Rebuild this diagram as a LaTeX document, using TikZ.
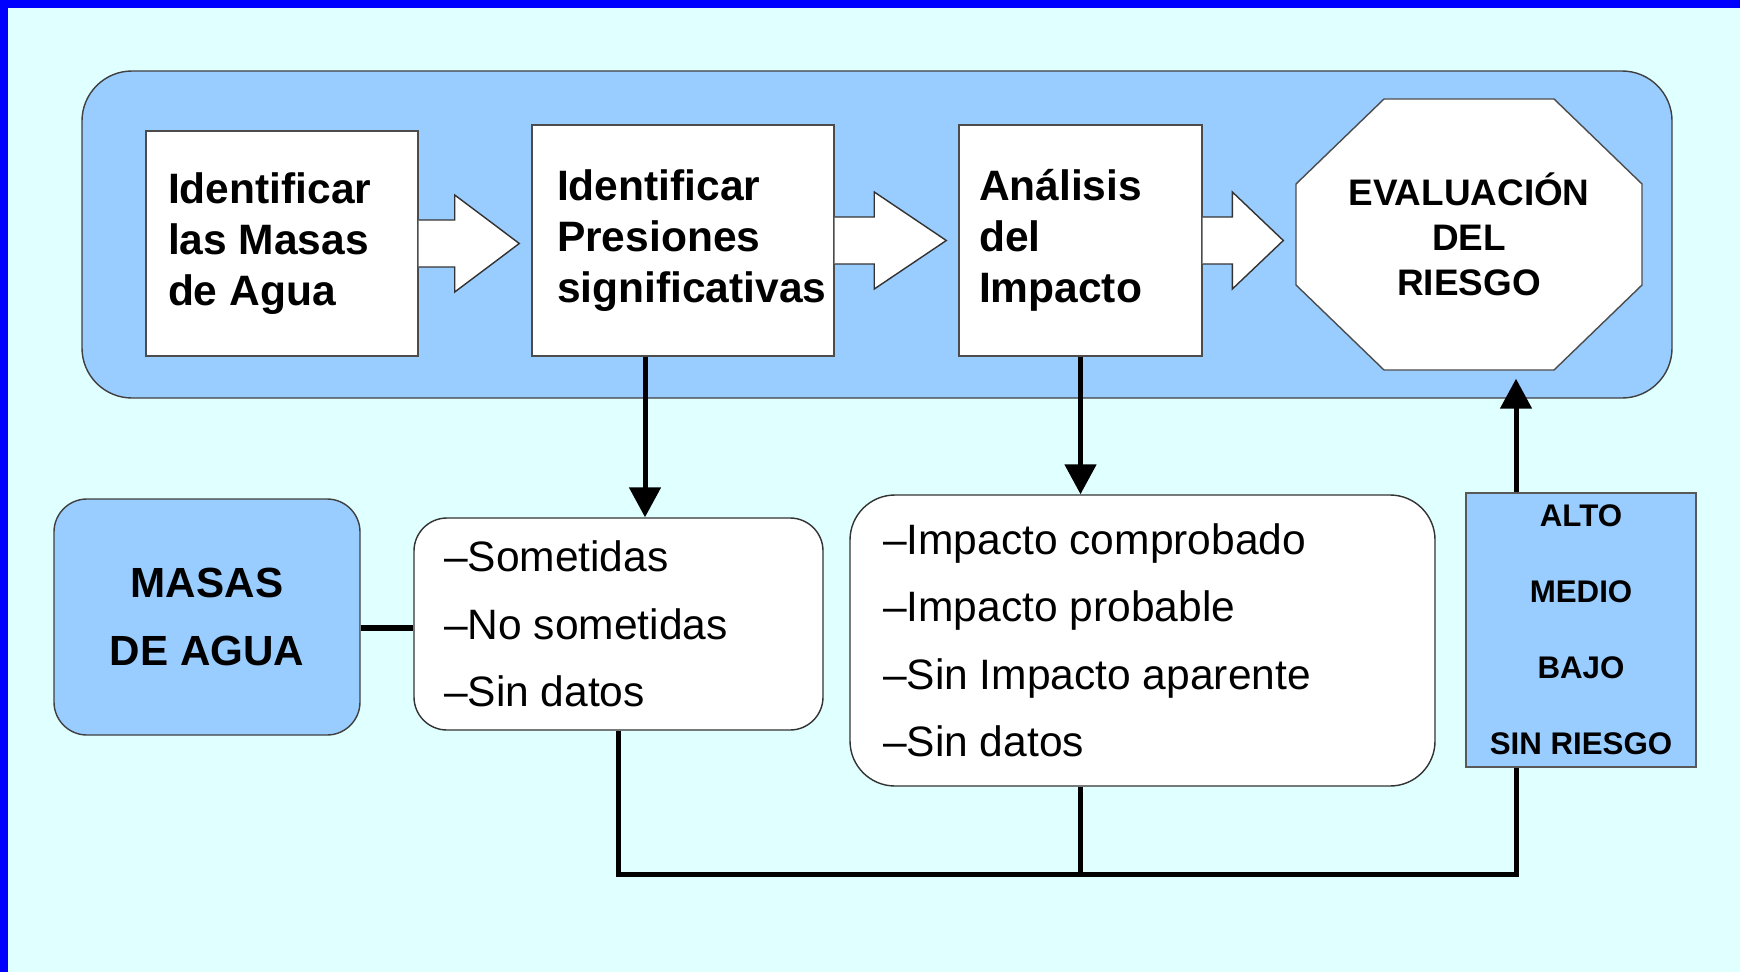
\documentclass[tikz,border=0pt]{standalone}
\usepackage{fontspec}
\setmainfont{Liberation Sans}
\usepackage{tikz}
\usetikzlibrary{calc,arrows.meta}
\hyphenpenalty=10000
\definecolor{frameblue}{HTML}{0000FF}
\definecolor{sky}{HTML}{E0FFFF}
\definecolor{paleblue}{HTML}{99CCFF}
\tikzstyle{panel}=[
        fill=paleblue,
        draw=black!75,
        line width=0.4pt,
        rounded corners=5mm
]
\tikzstyle{stepbox}=[
        draw=black!70,
        line width=0.4pt,
        fill=white,
        inner sep=0pt,
        align=flush left,
        font=\bfseries\fontsize{12.1}{14.5}\selectfont
]
\tikzstyle{octagon}=[
        draw=black!70,
        line width=0.4pt,
        fill=white
]
\tikzstyle{evalbox}=[
        minimum width=34.6mm,
        minimum height=27.1mm,
        inner sep=0pt,
        align=center,
        font=\bfseries\fontsize{10.5}{12.8}\selectfont
]
\tikzstyle{waterbox}=[
        draw=black!75,
        line width=0.4pt,
        fill=paleblue,
        rounded corners=3.3mm,
        minimum width=30.6mm,
        minimum height=23.6mm,
        align=center,
        font=\bfseries\fontsize{12}{19.6}\selectfont
]
\tikzstyle{listbox}=[
        draw=black!80,
        line width=0.4pt,
        fill=white,
        rounded corners=3.3mm,
        inner sep=0pt,
        align=flush left,
        font=\fontsize{12.1}{19.2}\selectfont
]
\tikzstyle{riskbox}=[
        draw=black!65,
        line width=0.4pt,
        fill=paleblue,
        minimum width=23mm,
        minimum height=27.4mm,
        inner sep=0pt,
        align=center,
        font=\bfseries\fontsize{8.9}{21.6}\selectfont
]
\tikzstyle{fatarrow}=[
        draw=black!80,
        line width=0.4pt,
        fill=white
]
\tikzstyle{link}=[
        line width=0.5mm
]
\tikzstyle{flow}=[
        link,
        -{Triangle[width=3.1mm,length=3mm]}
]

\begin{document}
\begin{tikzpicture}[x=0.1mm,y=-0.1mm]
                    \useasboundingbox (0,0) rectangle (1740,972);
                    \fill[frameblue] (0,0) rectangle (1740,972);
                    \fill[sky] (8,8) rectangle (1740,972);

                    \draw[panel] (82,71) rectangle (1672,398);

                    \node[stepbox, minimum width=27.2mm, minimum height=22.5mm, text width=22.8mm] (b1) at (282,243.5) {Identificar\\las Masas\\de Agua};
                    \node[stepbox, minimum width=30.2mm, minimum height=23.1mm, text width=25.2mm] (b2) at (683,240.5) {Identificar\\Presiones\\significativas};
                    \node[stepbox, minimum width=24.3mm, minimum height=23.1mm, text width=20.3mm] (b3) at (1080.5,240.5) {Análisis\\del\\Impacto};

                    \coordinate (evalc) at (1469,234.5);
                    \draw[octagon] (evalc) ++(-85,-135.5) -- ++(170,0) -- ++(88,85) -- ++(0,101)
                        -- ++(-88,85) -- ++(-170,0) -- ++(-88,-85) -- ++(0,-101) -- cycle;
                    \node[evalbox] (eval) at (evalc) {EVALUACIÓN\\DEL\\RIESGO};

                    \foreach \a/\b in {b1/b2,b2/b3,b3/eval} {
                        \draw[fatarrow] let \p1=(\a.east), \p2=(\b.west) in
                            (\x1,\y1+2.35mm) -- ({\x1+0.32*(\x2-\x1)},\y1+2.35mm)
                            -- ({\x1+0.32*(\x2-\x1)},\y1+4.85mm) -- (\x2-1.2mm,\y1)
                            -- ({\x1+0.32*(\x2-\x1)},\y1-4.85mm) -- ({\x1+0.32*(\x2-\x1)},\y1-2.35mm)
                            -- (\x1,\y1-2.35mm);
                    }

                    \node[waterbox] (masas) at (207,617) {MASAS\\DE AGUA};
                    \node[listbox, minimum width=40.9mm, minimum height=21.2mm, text width=34.9mm] (somet) at (618.5,624) {--Sometidas\\--No sometidas\\--Sin datos};
                    \node[listbox, rounded corners=4.5mm, minimum width=58.5mm, minimum height=29.1mm, text width=51.9mm] (impacto) at (1142.5,640.5) {--Impacto comprobado\\--Impacto probable\\--Sin Impacto aparente\\--Sin datos};
                    \node[riskbox] (risk) at (1581,630) {ALTO\\MEDIO\\BAJO\\SIN RIESGO};

                    \coordinate (bus) at (1516,874);

                    \draw[link, line width=0.65mm] ([yshift=-0.4mm]masas.east |- somet.west) -- ([yshift=-0.4mm]somet.west);
                    \draw[flow] ([xshift=-3.8mm]b2.south) -- ([xshift=-3.8mm]b2.south |- somet.north);
                    \draw[flow] (b3.south) -- (b3.south |- impacto.north);
                    \draw[link] (somet.south) |- (bus) -- (bus |- risk.south);
                    \draw[link] (b3.south |- impacto.south) -- (b3.south |- bus);
                    \draw[flow, shorten >=0.8mm] (bus |- risk.north) -- (bus |- eval.south);

                \end{tikzpicture}
\end{document}
